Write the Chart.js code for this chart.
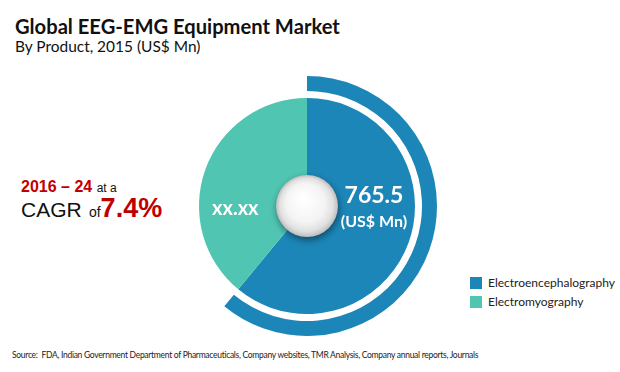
<!DOCTYPE html>
<html><head><meta charset="utf-8">
<script src="https://cdn.jsdelivr.net/npm/chart.js@4.4.0/dist/chart.umd.min.js"></script>
<style>
html,body{margin:0;padding:0;background:#fff;width:620px;height:372px;overflow:hidden;position:relative;font-family:Lato,"Open Sans",sans-serif;}
.abs{position:absolute;white-space:nowrap;}
#title{left:15px;top:13px;font-size:21px;line-height:1.2;font-weight:bold;color:#111;transform:scaleX(0.96);transform-origin:0 0;}
#sub{left:15px;top:36px;font-size:16px;line-height:1.2;color:#111;transform:scaleX(0.965);transform-origin:0 0;}
#cagr1{left:21px;top:178px;font-size:16px;font-family:Arial,"Liberation Sans",sans-serif;}
#cagr2{left:21px;top:193px;font-size:26px;line-height:30px;font-family:Arial,"Liberation Sans",sans-serif;}
.red{color:#c00000;font-weight:bold;}
#chartBox{position:absolute;left:177px;top:76px;width:260px;height:260px;}
#val1{left:343px;top:180px;font-size:23px;font-weight:bold;color:#fff;width:62px;text-align:center;}
#unit1{left:338px;top:211px;font-size:16px;font-weight:bold;color:#fff;width:72px;text-align:center;}
#val2{left:212px;top:195px;font-size:20px;line-height:1.2;font-weight:bold;color:#fff;}
#legend{left:470px;top:275px;font-size:12px;color:#222;}
#legend div{height:19px;line-height:15px;display:flex;align-items:flex-start;}
#legend span.box{display:inline-block;width:12px;height:12px;margin-right:6px;margin-top:2px;}
#source{left:12px;top:348px;font-size:10px;color:#222;letter-spacing:-0.35px;transform:scaleX(0.852);transform-origin:0 0;}
</style></head>
<body>
<div id="title" class="abs">Global EEG-EMG Equipment Market</div>
<div id="sub" class="abs">By Product, 2015 (US$ Mn)</div>
<div id="cagr1" class="abs"><span class="red" style="font-size:16px">2016 – 24</span> <span style="font-size:12px;color:#111">at a</span></div>
<div id="cagr2" class="abs"><span style="font-size:21px;color:#111">CAGR</span> <span style="font-size:14px;color:#111">of</span><span class="red" style="font-size:27px">7.4%</span></div>
<div id="chartBox"><canvas id="c" width="260" height="260"></canvas></div>
<div id="val1" class="abs"></div>
<div id="unit1" class="abs">(US$ Mn)</div>
<div id="val2" class="abs"></div>
<div id="legend" class="abs"></div>
<div id="source" class="abs">Source:&nbsp; FDA, Indian Government Department of Pharmaceuticals, Company websites, TMR Analysis, Company annual reports, Journals</div>
<script>
const categories = ["Electroencephalography", "Electromyography"];
const marketValues = [765.5, 490];
const valueLabels = ["765.5", "xx.xx"];
const colors = ["#1c86b8", "#4fc5b2"];

document.getElementById('val1').textContent = valueLabels[0];
document.getElementById('val2').textContent = valueLabels[1];
const leg = document.getElementById('legend');
categories.forEach((c,i)=>{
  const d=document.createElement('div');
  d.innerHTML='<span class="box" style="background:'+colors[i]+'"></span><span>'+c+'</span>';
  leg.appendChild(d);
});

const centerBall = {
  id:'centerBall',
  afterDatasetsDraw(chart){
    const meta = chart.getDatasetMeta(2);
    const arc = meta.data[0];
    const cx = arc.x, cy = arc.y, r = 31;
    const ctx = chart.ctx;
    ctx.save();
    ctx.shadowColor='rgba(0,0,0,0.45)';
    ctx.shadowBlur=7; ctx.shadowOffsetX=1; ctx.shadowOffsetY=3;
    const g = ctx.createRadialGradient(cx-4, cy-8, 2, cx, cy, r);
    g.addColorStop(0,'#ffffff');
    g.addColorStop(0.6,'#f4f4f4');
    g.addColorStop(0.85,'#e0e0e0');
    g.addColorStop(1,'#bdbdbd');
    ctx.beginPath(); ctx.arc(cx,cy,r,0,Math.PI*2); ctx.fillStyle=g; ctx.fill();
    ctx.restore();
  }
};

new Chart(document.getElementById('c'), {
  type:'doughnut',
  data:{
    labels: categories,
    datasets:[
      {data: marketValues, backgroundColor:[colors[0],'rgba(0,0,0,0)'], borderWidth:0, weight:15},
      {data: marketValues, backgroundColor:['rgba(0,0,0,0)','rgba(0,0,0,0)'], borderWidth:0, weight:7},
      {data: marketValues, backgroundColor: colors, borderWidth:0, weight:108}
    ]
  },
  options:{
    responsive:false, animation:false, cutout:0,
    layout:{padding:0},
    events:[],
    plugins:{legend:{display:false}, tooltip:{enabled:false}}
  },
  plugins:[centerBall]
});
</script>
</body></html>
